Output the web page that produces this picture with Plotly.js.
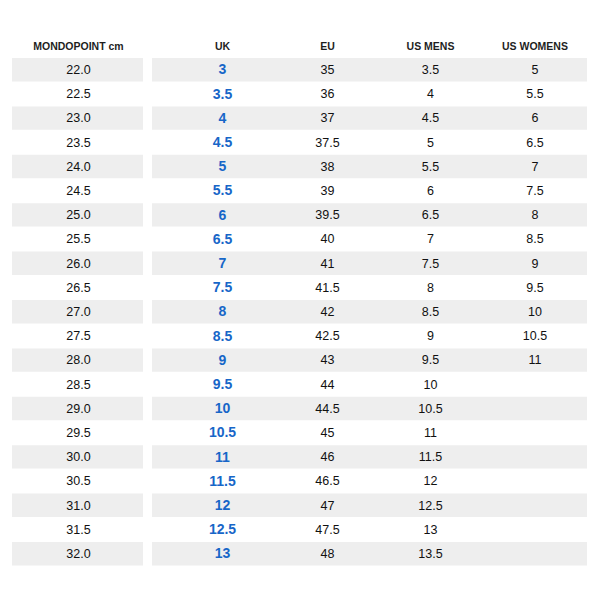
<!DOCTYPE html>
<html>
<head>
<meta charset="utf-8">
<script src="https://cdn.plot.ly/plotly-3.0.1.min.js"></script>
<style>html,body{margin:0;padding:0;background:#fff;}#chart{width:600px;height:600px;}</style>
</head>
<body>
<div id="chart"></div>
<script>
// ---- data ----
const headers = ['MONDOPOINT cm', 'UK', 'EU', 'US MENS', 'US WOMENS'];
const mondopoint = ['22.0','22.5','23.0','23.5','24.0','24.5','25.0','25.5','26.0','26.5','27.0','27.5','28.0','28.5','29.0','29.5','30.0','30.5','31.0','31.5','32.0'];
const uk = ['3','3.5','4','4.5','5','5.5','6','6.5','7','7.5','8','8.5','9','9.5','10','10.5','11','11.5','12','12.5','13'];
const eu = ['35','36','37','37.5','38','39','39.5','40','41','41.5','42','42.5','43','44','44.5','45','46','46.5','47','47.5','48'];
const usMens = ['3.5','4','4.5','5','5.5','6','6.5','7','7.5','8','8.5','9','9.5','10','10.5','11','11.5','12','12.5','13','13.5'];
const usWomens = ['5','5.5','6','6.5','7','7.5','8','8.5','9','9.5','10','10.5','11'];

// ---- layout constants ----
const rows = mondopoint.map((_, i) => i);
const colCenters = [78.5, 222.5, 327.5, 430.5, 535];
const band1 = [12, 143];
const band2 = [152, 587];
const GRAY = '#eeeeee';
const BLUE = '#1766c8';
const TEXT = '#111111';

const bandColors = rows.map(i => i % 2 === 0 ? GRAY : 'rgba(0,0,0,0)');

function bandTrace(b) {
  return {
    type: 'bar', orientation: 'h',
    y: rows, x: rows.map(() => b[1] - b[0]), base: rows.map(() => b[0]),
    width: rows.map(() => 0.965),
    marker: {color: bandColors, line: {width: 0}},
    hoverinfo: 'skip', showlegend: false
  };
}

function textTrace(values, xc, font, dy) {
  return {
    type: 'scatter', mode: 'text',
    x: values.map(() => xc), y: values.map((_, i) => i + dy),
    text: values, textposition: 'middle center',
    textfont: font, hoverinfo: 'skip', showlegend: false, cliponaxis: false
  };
}

const normalFont = {family: 'Liberation Sans, Arial, sans-serif', size: 12.5, color: TEXT};
const ukFont = {family: 'Liberation Sans, Arial, sans-serif', size: 14, color: BLUE, weight: 'bold'};
const dy = 0.05;

const traces = [
  bandTrace(band1), bandTrace(band2),
  textTrace(mondopoint, colCenters[0], normalFont, dy),
  textTrace(uk, colCenters[1], ukFont, dy),
  textTrace(eu, colCenters[2], normalFont, dy),
  textTrace(usMens, colCenters[3], normalFont, dy),
  textTrace(usWomens, colCenters[4], normalFont, dy),
  {
    type: 'scatter', mode: 'text',
    x: colCenters, y: headers.map(() => -0.92), text: headers.map(h => '<b>' + h + '</b>'),
    textposition: 'middle center',
    textfont: {family: 'Liberation Sans, Arial, sans-serif', size: 10.5, color: '#1e1e1e'},
    hoverinfo: 'skip', showlegend: false, cliponaxis: false
  }
];

const pitch = 24.2, firstCenter = 69.7;
const layout = {
  width: 600, height: 600,
  margin: {l: 0, r: 0, t: 0, b: 0, pad: 0},
  paper_bgcolor: '#fff', plot_bgcolor: '#fff',
  showlegend: false, barmode: 'overlay',
  xaxis: {range: [0, 600], visible: false, showgrid: false, zeroline: false, fixedrange: true},
  yaxis: {range: [(600 - firstCenter) / pitch, -firstCenter / pitch], visible: false, showgrid: false, zeroline: false, fixedrange: true}
};

Plotly.newPlot('chart', traces, layout, {displayModeBar: false, staticPlot: true});
</script>
</body>
</html>
